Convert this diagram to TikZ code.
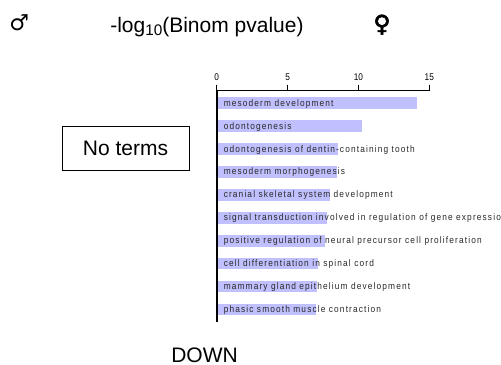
\documentclass[tikz,border=0pt]{standalone}
\usepackage{fontspec}
\setmainfont{Liberation Sans}
\newfontfamily\termfont[LetterSpace=12,FakeStretch=0.88]{Liberation Sans}
\newfontfamily\tickfont[FakeStretch=0.85]{Liberation Sans}
\newfontfamily\symfont{DejaVu Sans}
\newfontfamily\symboldfont[FakeBold=2.5]{DejaVu Sans Bold}
\definecolor{barfill}{RGB}{192,192,255}
\definecolor{termtext}{RGB}{40,40,40}
\tikzset{
  termlabel/.style={inner sep=0pt, anchor=base west, text=termtext,
    font=\termfont\fontsize{7.1pt}{8pt}\selectfont},
  ticklabel/.style={inner sep=0pt, font=\tickfont\fontsize{7.3pt}{8pt}\selectfont},
  bigtext/.style={inner sep=0pt, font=\fontsize{15.75pt}{18pt}\selectfont},
}
\begin{document}
\begin{tikzpicture}[x=0.75pt,y=-0.75pt]
\useasboundingbox (0,0) rectangle (501,365);
\clip (0,0) rectangle (501,365);

% header: sex symbols and axis title
\node[inner sep=0pt, font=\symfont\fontsize{16.5pt}{18pt}\selectfont] (male) at (19.2,23) {♂};
\node[inner sep=0pt, font=\symboldfont\fontsize{17.5pt}{19pt}\selectfont] (female) at (382,24.7) {♀};
\node[bigtext, anchor=base west] (title) at (110,32)
  {-log\raisebox{-2.5pt}{\fontsize{11.5pt}{12pt}\selectfont 10}(Binom pvalue)};

% empty panel
\node[draw, line width=0.75pt, minimum width=127*0.75pt, minimum height=44*0.75pt,
      font=\fontsize{15.75pt}{18pt}\selectfont] (noterms) at (125.5,148) {No terms};

% bars with term labels
\foreach \i/\xe/\lbl in {
  1/416.7/mesoderm development,
  2/362.3/odontogenesis,
  3/337.7/odontogenesis of dentin-containing tooth,
  4/336.7/mesoderm morphogenesis,
  5/330.0/cranial skeletal system development,
  6/327.3/signal transduction involved in regulation of gene expression,
  7/325.0/positive regulation of neural precursor cell proliferation,
  8/318.3/cell differentiation in spinal cord,
  9/316.7/mammary gland epithelium development,
  10/316.0/phasic smooth muscle contraction}{
  \pgfmathsetmacro\yc{103.3+(\i-1)*22.95}
  \fill[barfill] (216.7,\yc-6) rectangle (\xe,\yc+5.5);
  \node[termlabel] (term\i) at (223.5,\yc+2.8) {\lbl};
}

% axes
\draw[line width=0.75pt] (216.7,90.5) -- (429.5,90.5);
\foreach \v in {0,5,10,15}{
  \draw[line width=0.75pt] (216.7+\v*14.17,84.5) -- (216.7+\v*14.17,90.5);
  \node[ticklabel] (tick\v) at (216.7+\v*14.17,77.5) {\v};
}
\draw[line width=1.5pt] (216.7,90) -- (216.7,322);

% panel caption
\node[bigtext] (down) at (204.5,355) {DOWN};
\end{tikzpicture}
\end{document}
